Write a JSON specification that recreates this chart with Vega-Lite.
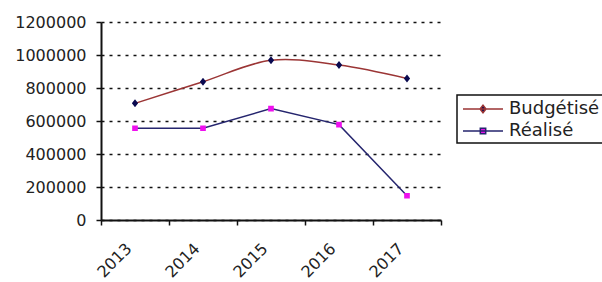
{
  "$schema": "https://vega.github.io/schema/vega-lite/v6.json",
  "autosize": "none",
  "width": 340,
  "height": 198,
  "padding": {"left": 101, "top": 22, "right": 161, "bottom": 62},
  "background": "white",
  "config": {
    "view": {"stroke": null},
    "font": "DejaVu Sans",
    "axis": {"labelFont": "DejaVu Sans", "labelColor": "#222", "labelFontSize": 16, "domainColor": "#111", "domainWidth": 2, "tickColor": "#111", "tickWidth": 1.5, "tickSize": 5, "title": null}
  },
  "data": {"values": [
    {"year": "2013", "series": "Budgétisé", "value": 707000},
    {"year": "2014", "series": "Budgétisé", "value": 838000},
    {"year": "2015", "series": "Budgétisé", "value": 968000},
    {"year": "2016", "series": "Budgétisé", "value": 939000},
    {"year": "2017", "series": "Budgétisé", "value": 858000},
    {"year": "2013", "series": "Réalisé", "value": 556000},
    {"year": "2014", "series": "Réalisé", "value": 556000},
    {"year": "2015", "series": "Réalisé", "value": 675000},
    {"year": "2016", "series": "Réalisé", "value": 578000},
    {"year": "2017", "series": "Réalisé", "value": 147000}
  ]},
  "encoding": {
    "x": {"field": "year", "type": "ordinal", "bandPosition": 0.5,
      "scale": {"type": "band", "paddingInner": 0, "paddingOuter": 0},
      "axis": {"labelAngle": -45, "tickBand": "extent", "labelPadding": 15, "labelOffset": -12, "grid": false}},
    "y": {"field": "value", "type": "quantitative",
      "scale": {"domain": [0, 1200000], "nice": false},
      "axis": {"values": [0, 200000, 400000, 600000, 800000, 1000000, 1200000], "format": "d", "labelPadding": 10,
        "grid": true, "gridColor": "#111", "gridWidth": 1.5, "gridDash": [3, 5], "gridOpacity": 1}}
  },
  "layer": [
    {
      "transform": [{"filter": "datum.series === 'Budgétisé'"}],
      "mark": {"type": "line", "interpolate": "catmull-rom", "strokeWidth": 1.5},
      "encoding": {
        "color": {"field": "series", "type": "nominal",
          "scale": {"domain": ["Budgétisé", "Réalisé"], "range": ["#9b3535", "#25256e"]},
          "legend": {"title": null, "orient": "none", "legendX": 356, "legendY": 73,
            "strokeColor": "#111", "padding": 3, "fillColor": "white",
            "symbolSize": 400, "symbolOffset": 12,
            "labelFontSize": 18, "labelFont": "DejaVu Sans", "labelColor": "#222", "labelOffset": 15, "rowPadding": 2,
            "encode": {
              "legend": {"update": {"strokeWidth": {"value": 1.5}}},
              "symbols": {"update": {"strokeWidth": {"value": 1.5}, "opacity": {"value": 1}, "fill": {"scale": "fill", "field": "value"}}}
            }}}
      }
    },
    {
      "transform": [{"filter": "datum.series === 'Réalisé'"}],
      "mark": {"type": "line", "strokeWidth": 1.5},
      "encoding": {
        "color": {"field": "series", "type": "nominal"}
      }
    },
    {
      "mark": {"type": "point", "filled": true, "size": 440, "opacity": 1, "strokeWidth": 0},
      "encoding": {
        "shape": {"field": "series", "type": "nominal",
          "scale": {"domain": ["Budgétisé", "Réalisé"], "range": ["M-2,0L2,0M0,-0.38L0.3,0L0,0.38L-0.3,0Z", "M-2,0L2,0M-0.27,-0.27L0.27,-0.27L0.27,0.27L-0.27,0.27Z"]},
          "legend": null},
        "fill": {"field": "series", "type": "nominal",
          "scale": {"domain": ["Budgétisé", "Réalisé"], "range": ["#0a0a50", "#ee10ee"]},
          "legend": null}
      }
    }
  ]
}
